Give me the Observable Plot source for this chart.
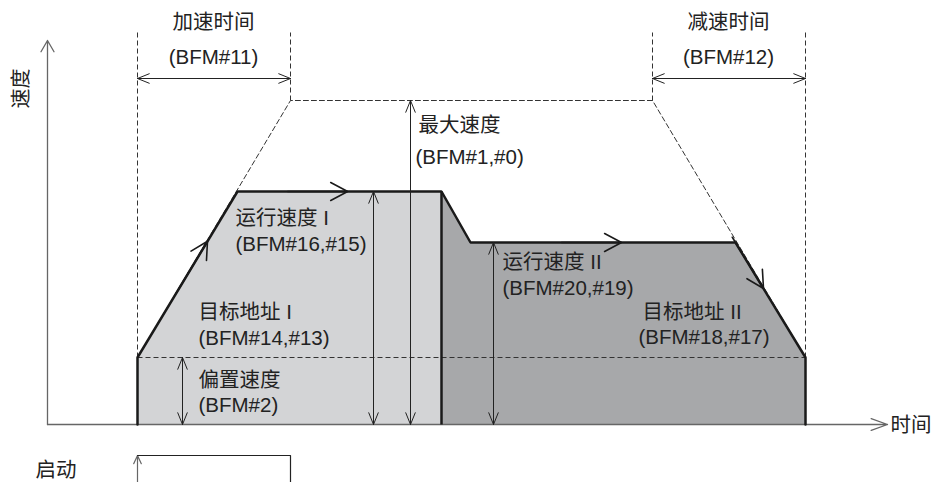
<!DOCTYPE html>
<html><head><meta charset="utf-8">
<script src="https://cdn.jsdelivr.net/npm/d3@7"></script>
<script src="https://cdn.jsdelivr.net/npm/@observablehq/plot@0.6"></script>
<style>body{margin:0;background:#fff}#chart svg{display:block}</style>
</head><body><div id="chart"></div>
<script>
// Speed profile (t = time units, v = speed units)
const profileT = [90, 90, 190, 394, 423, 688, 758, 758];
const profileV = [0, 67, 233, 233, 182, 182, 67, 0];
// Envelope at max speed (dashed)
const envelopeT = [90, 243, 605, 758];
const envelopeV = [67, 324, 324, 67];
// Key levels and times
const biasSpeed = 67, speedI = 233, speedII = 182, maxSpeed = 324;
const startTime = 90, switchTime = 394, stopTime = 758, accelEnd = 243, decelStart = 605;
const timeAxisEnd = 840, speedAxisEnd = 384;
const dimLevel = 346, guideTop = 392;
const dimTimes = [135, 326, 363, 446];
const dimSpeeds = [biasSpeed, speedI, maxSpeed, speedII];
const pulseHigh = -31, pulseLow = -58;
// Direction chevrons: segment start index in profile, fraction along segment
const chevronSeg = [1, 2, 4, 5];
const chevronFrac = [0.7, 0.54, 0.57, 0.4];
// Labels
const labelText = ["加速时间", "(BFM#11)", "减速时间", "(BFM#12)", "最大速度", "(BFM#1,#0)",
  "运行速度 I", "(BFM#16,#15)", "目标地址 I", "(BFM#14,#13)", "偏置速度", "(BFM#2)",
  "运行速度 II", "(BFM#20,#19)", "目标地址 II", "(BFM#18,#17)", "时间", "启动"];
const labelT = [166, 166, 681, 681, 371, 368, 188, 188, 151, 151, 151, 151, 455, 455, 595, 591, 843, -12];
const labelV = [402, 367, 402, 367, 299, 267, 206, 180, 112, 86, 44, 19, 162, 136, 112, 87, -1, -46];
const labelAnchor = ["middle","middle","middle","middle","start","start","start","start","start","start","start","start","start","start","start","start","start","start"];

const pts = profileT.map((t, i) => ({t, v: profileV[i]}));
const light = pts.slice(1, 4);
const dark = pts.slice(3, 7);
const env = envelopeT.map((t, i) => ({t, v: envelopeV[i]}));
const labels = labelText.map((s, i) => ({s, t: labelT[i], v: labelV[i], a: labelAnchor[i]}));

const chevrons = chevronSeg.map((k, i) => {
  const a = pts[k], b = pts[k + 1];
  const dx = b.t - a.t, dy = b.v - a.v, L = Math.hypot(dx, dy);
  const f = chevronFrac[i];
  const tx = a.t + f * dx, ty = a.v + f * dy;
  return {x1: tx - 60 * dx / L, y1: ty - 60 * dy / L, x2: tx, y2: ty};
});

const dims = [];
dimTimes.forEach((t, i) => {
  dims.push({x1: t, y1: 0, x2: t, y2: dimSpeeds[i]});
  dims.push({x1: t, y1: dimSpeeds[i], x2: t, y2: 0});
});
[[startTime, accelEnd], [decelStart, stopTime]].forEach(([a, b]) => {
  dims.push({x1: a, y1: dimLevel, x2: b, y2: dimLevel});
  dims.push({x1: b, y1: dimLevel, x2: a, y2: dimLevel});
});

const guides = [
  {x1: startTime, y1: biasSpeed, x2: startTime, y2: guideTop},
  {x1: accelEnd, y1: maxSpeed, x2: accelEnd, y2: guideTop},
  {x1: decelStart, y1: maxSpeed, x2: decelStart, y2: guideTop},
  {x1: stopTime, y1: biasSpeed, x2: stopTime, y2: guideTop},
  {x1: startTime, y1: biasSpeed, x2: stopTime, y2: biasSpeed}
];

const font = "'Liberation Sans', Arial, 'Noto Sans CJK SC', sans-serif";
const textOpts = {x: "t", y: "v", text: "s", fill: "#222", fontSize: 20.5, fontFamily: font};

const chart = Plot.plot({
  width: 935, height: 482, margin: 0,
  x: {domain: [-47, 888], axis: null},
  y: {domain: [-58, 424], axis: null},
  style: {background: "#fff", overflow: "visible"},
  marks: [
    Plot.areaY(light, {x: "t", y: "v", fill: "#d3d4d6"}),
    Plot.areaY(dark, {x: "t", y: "v", fill: "#a7a8aa"}),
    Plot.link(guides, {x1: "x1", y1: "y1", x2: "x2", y2: "y2", stroke: "#333", strokeWidth: 1, strokeDasharray: "5,3"}),
    Plot.line(env, {x: "t", y: "v", stroke: "#333", strokeWidth: 1, strokeDasharray: "5,3"}),
    // axes
    Plot.arrow([{x1: 0, y1: 0, x2: 0, y2: speedAxisEnd}], {x1: "x1", y1: "y1", x2: "x2", y2: "y2", stroke: "#666", strokeWidth: 1.3, headLength: 15, headAngle: 60}),
    Plot.arrow([{x1: 0, y1: 0, x2: timeAxisEnd, y2: 0}], {x1: "x1", y1: "y1", x2: "x2", y2: "y2", stroke: "#666", strokeWidth: 1.3, headLength: 20, headAngle: 40}),
    // profile outline
    Plot.line(pts, {x: "t", y: "v", stroke: "#1a1a1a", strokeWidth: 2.5, strokeLinejoin: "miter"}),
    Plot.link([{x1: switchTime, y1: 0, x2: switchTime, y2: speedI}], {x1: "x1", y1: "y1", x2: "x2", y2: "y2", stroke: "#1a1a1a", strokeWidth: 2.5}),
    // dimension arrows
    Plot.arrow(dims, {x1: "x1", y1: "y1", x2: "x2", y2: "y2", stroke: "#222", strokeWidth: 1, headLength: 19, headAngle: 44}),
    // direction chevrons
    Plot.arrow(chevrons, {x1: "x1", y1: "y1", x2: "x2", y2: "y2", stroke: "#1a1a1a", strokeWidth: 1.6, headLength: 18, headAngle: 56}),
    // start pulse
    Plot.arrow([{x1: startTime, y1: pulseLow, x2: startTime, y2: pulseHigh}], {x1: "x1", y1: "y1", x2: "x2", y2: "y2", stroke: "#666", strokeWidth: 1.2, headLength: 12, headAngle: 50}),
    Plot.line([{t: startTime, v: pulseHigh}, {t: accelEnd, v: pulseHigh}, {t: accelEnd, v: pulseLow}], {x: "t", y: "v", stroke: "#222", strokeWidth: 1.2}),
    // labels
    Plot.text(labels.filter(d => d.a === "middle"), {...textOpts, textAnchor: "middle"}),
    Plot.text(labels.filter(d => d.a === "start"), {...textOpts, textAnchor: "start"}),
    Plot.text(["速度"], {x: -26, y: 336, text: d => d, rotate: -90, fill: "#222", fontSize: 20, fontFamily: font})
  ]
});
document.getElementById("chart").appendChild(chart);
</script>
</body></html>
